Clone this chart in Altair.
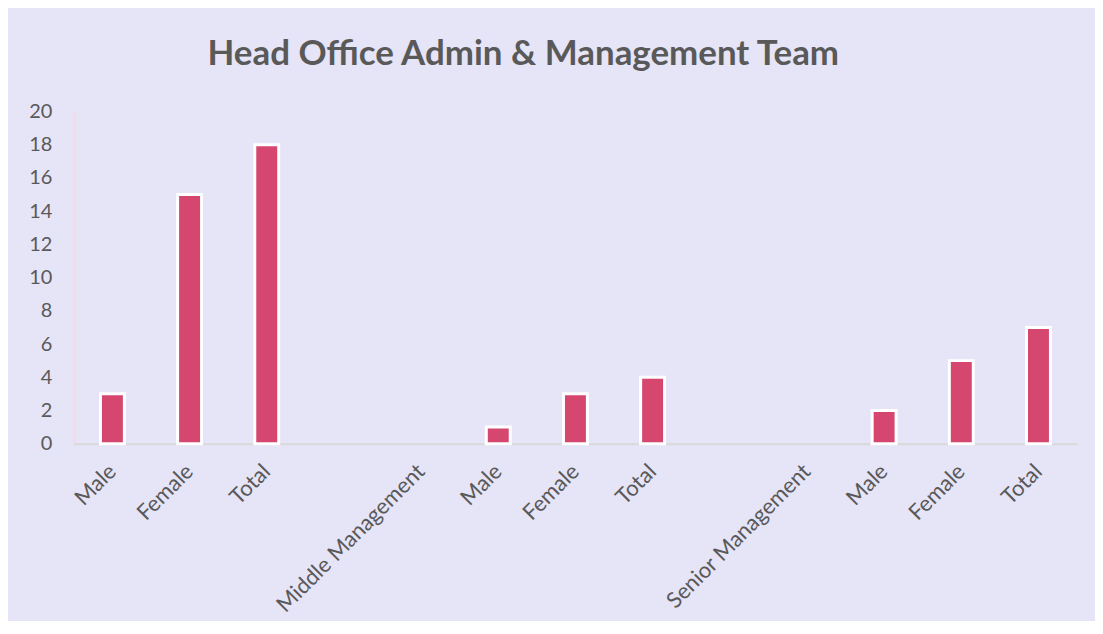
import altair as alt
import pandas as pd

categories = ["Male", "Female", "Total", " ", "Middle Management",
              "Male", "Female", "Total", " ", "Senior Management",
              "Male", "Female", "Total"]
values = [3, 15, 18, None, None, 1, 3, 4, None, None, 2, 5, 7]

idx = list(range(len(categories)))
df = pd.DataFrame({"idx": idx, "label": categories, "value": values}).dropna()

label_js = "[" + ",".join("'" + c + "'" for c in categories) + "]"

FONT = "Lato"
GREY = "#595959"

chart = alt.Chart(df).mark_bar(
    color="#D5476F", stroke="white", strokeWidth=3, size=24
).encode(
    x=alt.X("idx:O", scale=alt.Scale(domain=idx, paddingInner=0, paddingOuter=0),
            axis=alt.Axis(title=None, labelAngle=-45, labelAlign="right",
                          labelBaseline="middle", labelLimit=400,
                          labelExpr=label_js + "[datum.value]",
                          labelFont=FONT, labelFontSize=22, labelColor=GREY,
                          labelPadding=24, ticks=False, domainColor="#D9D9D9",
                          domainWidth=2)),
    y=alt.Y("value:Q", scale=alt.Scale(domain=[0, 20]),
            axis=alt.Axis(title=None, values=list(range(0, 21, 2)), grid=False,
                          ticks=False, labelFont=FONT, labelFontSize=20,
                          labelColor=GREY, labelPadding=22, domainColor="#F4D9E6",
                          domainWidth=2)),
).properties(
    width=1006, height=333,
    title=alt.TitleParams("Head Office Admin & Management Team", font=FONT,
                          fontSize=35, fontWeight="bold", color=GREY,
                          anchor="start", frame="group", dx=134, offset=30),
    padding={"left": 20, "top": 28, "right": 18, "bottom": 4},
).configure(background="#E6E4F7").configure_view(stroke=None)

chart.save("out.html", embed_options={"renderer": "svg", "actions": False})
